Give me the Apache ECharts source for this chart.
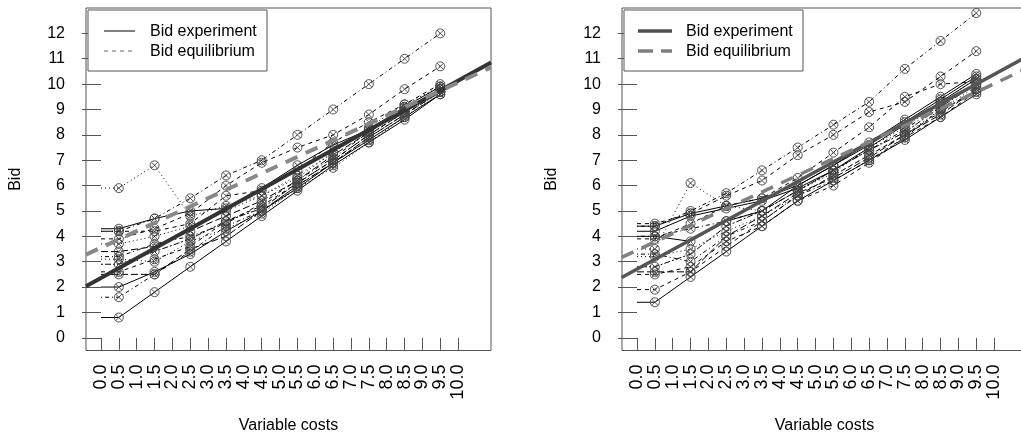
<!DOCTYPE html>
<html>
<head>
<meta charset="utf-8">
<script src="https://cdn.jsdelivr.net/npm/echarts@6/dist/echarts.min.js"></script>
<style>
html,body{margin:0;padding:0;background:#fff;}
#chart{width:1021px;height:434px;}
</style>
</head>
<body>
<div id="chart"></div>
<script>
// ---------- data ----------
const costs = [0.5, 1.5, 2.5, 3.5, 4.5, 5.5, 6.5, 7.5, 8.5, 9.5];
const xTicks = [0,0.5,1,1.5,2,2.5,3,3.5,4,4.5,5,5.5,6,6.5,7,7.5,8,8.5,9,9.5,10];
const yTicks = [0,1,2,3,4,5,6,7,8,9,10,11,12];

// left panel: individual bids per bidder at costs 0.5..9.5
const leftBids = [
  [4.2, 4.7, 5.5, 6.4, 7.0, 8.0, 9.0, 10.0, 11.0, 12.0],
  [3.9, 4.3, 4.9, 6.0, 6.9, 7.5, 8.0, 8.8, 9.8, 10.7],
  [5.9, 6.8, 4.8, 5.2, 5.6, 6.3, 7.3, 8.3, 9.2, 9.9],
  [4.3, 4.7, 5.0, 5.1, 5.9, 6.8, 7.6, 8.2, 9.1, 9.9],
  [0.8, 1.8, 2.8, 3.8, 4.8, 5.8, 6.8, 7.7, 8.6, 9.6],
  [1.6, 2.5, 3.4, 4.4, 5.0, 6.0, 6.9, 7.9, 8.8, 9.7],
  [2.0, 2.6, 3.3, 4.2, 5.0, 5.9, 6.9, 7.8, 8.7, 9.6],
  [2.6, 3.1, 3.6, 4.6, 5.2, 6.1, 7.0, 8.0, 8.9, 9.8],
  [3.4, 3.6, 4.2, 4.8, 5.4, 6.2, 7.2, 8.1, 9.0, 9.8],
  [3.7, 4.0, 4.4, 5.0, 5.6, 6.4, 7.3, 8.2, 9.1, 9.9],
  [2.9, 3.4, 3.9, 4.6, 5.1, 6.1, 7.0, 8.0, 8.9, 9.7],
  [3.2, 3.7, 4.0, 4.5, 5.3, 6.2, 7.1, 8.1, 9.0, 9.8],
  [4.2, 4.2, 4.5, 5.6, 5.8, 6.6, 7.7, 8.5, 9.2, 10.0],
  [3.1, 3.0, 3.8, 4.3, 4.9, 5.9, 6.7, 7.7, 8.7, 9.7],
  [2.5, 2.5, 3.5, 4.0, 5.0, 6.0, 6.9, 7.9, 8.8, 9.7]
];
const leftLty = ['dotdash','dashed','dotted','solid','solid','dotdash','solid','dashed','longdash','dotted','twodash','dotdash','dashed','dotted','longdash'];

// right panel
const rightBids = [
  [4.4, 5.0, 5.7, 6.6, 7.5, 8.4, 9.3, 10.6, 11.7, 12.8],
  [4.5, 4.9, 5.6, 6.2, 7.2, 8.0, 8.9, 9.3, 10.3, 11.3],
  [3.9, 4.5, 5.2, 5.5, 6.3, 7.3, 8.3, 9.5, 10.0, 10.1],
  [1.4, 2.4, 3.4, 4.4, 5.4, 6.2, 7.0, 7.8, 8.7, 9.6],
  [1.9, 2.6, 3.6, 4.6, 5.6, 6.4, 7.2, 8.0, 8.9, 9.8],
  [4.4, 4.9, 5.2, 5.5, 6.0, 6.8, 7.6, 8.5, 9.4, 10.3],
  [4.2, 4.8, 5.1, 5.4, 5.9, 6.6, 7.5, 8.4, 9.3, 10.2],
  [4.0, 4.3, 4.6, 5.0, 5.8, 6.6, 7.4, 8.2, 9.2, 10.0],
  [3.2, 3.5, 4.2, 4.8, 5.6, 6.4, 7.2, 8.0, 9.0, 9.9],
  [3.3, 3.0, 4.0, 4.6, 5.6, 6.2, 7.0, 7.9, 9.0, 9.7],
  [2.5, 2.8, 3.8, 4.4, 5.4, 6.0, 6.9, 7.9, 8.7, 9.7],
  [2.8, 3.3, 4.4, 5.0, 5.8, 6.6, 7.4, 8.1, 9.1, 10.0],
  [2.6, 2.6, 4.0, 4.8, 5.7, 6.3, 7.1, 8.0, 8.8, 9.8],
  [3.5, 6.1, 5.2, 5.0, 5.8, 6.5, 7.5, 8.3, 9.3, 10.2],
  [4.0, 3.8, 4.6, 5.0, 6.0, 6.8, 7.7, 8.6, 9.5, 10.4]
];
const rightLty = ['dotdash','dashed','dashed','solid','dashed','solid','solid','dotdash','dotted','dotdash','dashed','twodash','longdash','dotted','solid'];

// fitted lines (endpoints read at plot edges)
const leftExpFit = [[-0.42, 2.03], [10.92, 10.85]];
const leftEqFit  = [[-0.42, 3.28], [10.92, 10.66]];
const rightExpFit = [[-0.43, 2.38], [10.92, 11.09]];
const rightEqFit  = [[-0.43, 3.17], [10.92, 10.62]];

const legendLabels = ['Bid experiment', 'Bid equilibrium'];
const axisNames = {x: 'Variable costs', y: 'Bid'};

// ---------- styling ----------
const FONT = '"Liberation Sans", Arial, sans-serif';
const dashMap = {
  solid: 'solid', dashed: [4,4], dotted: [1,3], dotdash: [1,3,4,3],
  longdash: [7,3], twodash: [2,2,6,2]
};
const MARK = 'path://M5,0A5,5,0,1,1,5,10A5,5,0,1,1,5,0ZM1.46,1.46L8.54,8.54M8.54,1.46L1.46,8.54';

function bidderSeries(bids, lty, gi) {
  return bids.map((row, i) => {
    const data = [{value: [0, row[0]], symbol: 'none'}];
    row.forEach((v, j) => data.push([costs[j], v]));
    return {
      type: 'line', xAxisIndex: gi, yAxisIndex: gi, data,
      symbol: MARK, symbolSize: 9, showAllSymbol: true,
      itemStyle: {color: 'rgba(0,0,0,0)', borderColor: '#444', borderWidth: 0.9},
      lineStyle: {color: '#000', width: 1, type: dashMap[lty[i]]},
      z: 2, silent: true
    };
  });
}
function fitSeries(pts, gi, color, width, type) {
  return {type: 'line', xAxisIndex: gi, yAxisIndex: gi, data: pts, symbol: 'none',
    lineStyle: {color, width, type, cap: 'butt'}, z: 5, silent: true};
}

const grids = [
  {left: 86, top: 8, width: 405, height: 342.5},
  {left: 622, top: 8, width: 405, height: 342.5}
];
const xAxes = grids.map((g, i) => ({
  type: 'value', gridIndex: i, min: -0.42, max: 10.92,
  name: axisNames.x, nameLocation: 'middle', nameGap: 67,
  nameTextStyle: {fontFamily: FONT, fontSize: 16, color: '#000'},
  axisLine: {show: false}, splitLine: {show: false},
  axisTick: {show: true, customValues: xTicks, length: 12, lineStyle: {color: '#555'}},
  axisLabel: {show: true, customValues: xTicks, rotate: 90, margin: 14,
    interval: 0, hideOverlap: false, showMinLabel: true, showMaxLabel: true,
    lineHeight: 12,
    formatter: v => v.toFixed(1), fontFamily: FONT, fontSize: 18, color: '#000'}
}));
const yAxes = grids.map((g, i) => ({
  type: 'value', gridIndex: i, min: -0.5, max: 13,
  name: axisNames.y, nameLocation: 'middle', nameGap: 62, nameRotate: 90,
  nameTextStyle: {fontFamily: FONT, fontSize: 16, color: '#000'},
  axisLine: {show: false}, splitLine: {show: false},
  axisTick: {show: true, customValues: yTicks, length: 19, lineStyle: {color: '#555'}},
  axisLabel: {show: true, customValues: yTicks, margin: 21,
    interval: 0, hideOverlap: false, showMinLabel: true, showMaxLabel: true,
    fontFamily: FONT, fontSize: 16, color: '#000'}
}));

function legendGraphic(x0, thick) {
  return [
    {type: 'rect', shape: {x: x0, y: 10, width: 179, height: 61},
      style: {fill: '#fff', stroke: '#555', lineWidth: 1}, z: 10},
    {type: 'line', shape: {x1: x0 + (thick ? 14 : 16), y1: 31, x2: x0 + (thick ? 48 : 47), y2: 31},
      style: thick ? {stroke: '#505050', lineWidth: 3.5} : {stroke: '#000', lineWidth: 1}, z: 11},
    {type: 'line', shape: {x1: x0 + (thick ? 14 : 16), y1: 51, x2: x0 + (thick ? 48 : 47), y2: 51},
      style: thick ? {stroke: '#808080', lineWidth: 3.5, lineDash: [15, 8]} : {stroke: '#666', lineWidth: 1, lineDash: [4, 4]}, z: 11},
    {type: 'text', x: x0 + 62, y: 32,
      style: {text: legendLabels[0], font: '16px ' + FONT, fill: '#000', verticalAlign: 'middle'}, z: 11},
    {type: 'text', x: x0 + 62, y: 52,
      style: {text: legendLabels[1], font: '16px ' + FONT, fill: '#000', verticalAlign: 'middle'}, z: 11}
  ];
}

const series = [].concat(
  bidderSeries(leftBids, leftLty, 0),
  bidderSeries(rightBids, rightLty, 1),
  [
    fitSeries(leftExpFit, 0, '#333', 4, 'solid'),
    fitSeries(leftEqFit, 0, '#888', 4, [13, 9]),
    fitSeries(rightExpFit, 1, '#555', 3.5, 'solid'),
    fitSeries(rightEqFit, 1, '#808080', 3.5, [13, 9])
  ]
);

const chart = echarts.init(document.getElementById('chart'), null, {renderer: 'canvas'});
chart.setOption({
  animation: false,
  backgroundColor: '#fff',
  textStyle: {fontFamily: FONT},
  grid: grids.map(g => Object.assign({show: true, borderColor: '#555', borderWidth: 1, backgroundColor: 'transparent', outerBoundsMode: 'none', containLabel: false}, g)),
  xAxis: xAxes,
  yAxis: yAxes,
  series,
  graphic: [].concat(legendGraphic(88, false), legendGraphic(624, true))
});
</script>
</body>
</html>
